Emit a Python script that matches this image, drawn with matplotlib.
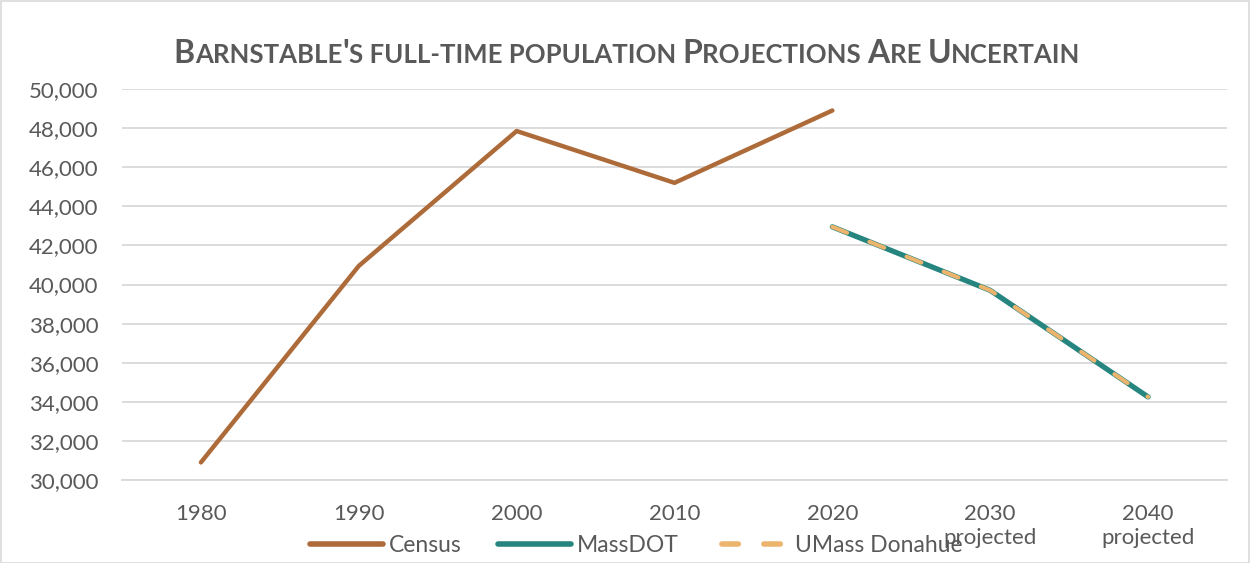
import matplotlib
matplotlib.use('Agg')
import matplotlib.pyplot as plt
import numpy as np
from matplotlib.lines import Line2D
from matplotlib.patches import Rectangle
from matplotlib.ticker import FuncFormatter, MultipleLocator

plt.rcParams['font.family'] = ['Lato', 'DejaVu Sans']

# ---- data ----
categories = ['1980', '1990', '2000', '2010', '2020', '2030\nprojected', '2040\nprojected']
census = [30900, 40950, 47850, 45200, 48900, np.nan, np.nan]
massdot = [np.nan, np.nan, np.nan, np.nan, 42950, 39700, 34250]
umass_donahue = [np.nan, np.nan, np.nan, np.nan, 42950, 39700, 34250]
title_text = "Barnstable's full-time population Projections Are Uncertain"

C_CENSUS = '#AE6B3A'
C_MASS = '#26857F'
C_UMASS = '#EDB46E'
TXT = '#595959'
GRID = '#D9D9D9'

W, H = 1251, 563
fig = plt.figure(figsize=(W / 100, H / 100), dpi=100)
ax = fig.add_axes([122 / W, 1 - 480 / H, (1227 - 122) / W, (480 - 89) / H])

x = np.arange(len(categories))
ax.plot(x, census, color=C_CENSUS, lw=3.2, solid_capstyle='round', zorder=3)
ax.plot(x, massdot, color=C_MASS, lw=3.8, solid_capstyle='round', zorder=3)
ax.plot(x, umass_donahue, color=C_UMASS, lw=3.0, linestyle=(0, (3.8, 5.8)),
        dash_capstyle='round', zorder=4)

ax.set_xlim(-0.5, len(categories) - 0.5)
ax.set_ylim(30000, 50000)
ax.yaxis.set_major_locator(MultipleLocator(2000))
ax.yaxis.set_major_formatter(FuncFormatter(lambda v, p: f'{int(v):,}'))
ax.set_xticks(x)
ax.set_xticklabels(categories, linespacing=1.3)
ax.grid(axis='y', color=GRID, lw=1.3)
ax.set_axisbelow(True)
for s in ['top', 'right', 'left']:
    ax.spines[s].set_visible(False)
ax.spines['bottom'].set_color(GRID)
ax.spines['bottom'].set_linewidth(1.3)
ax.tick_params(axis='both', length=0, labelsize=16, colors=TXT)
ax.tick_params(axis='y', pad=17)
ax.tick_params(axis='x', pad=17)

# legend
handles = [
    Line2D([], [], color=C_CENSUS, lw=4, solid_capstyle='round'),
    Line2D([], [], color=C_MASS, lw=4, solid_capstyle='round'),
    Line2D([], [], color=C_UMASS, lw=4, linestyle=(6.5, (2.96, 4.6)), dash_capstyle='round'),
]
fig.legend(handles, ['Census', 'MassDOT', 'UMass Donahue'], loc='center',
           bbox_to_anchor=(636 / W, 1 - 546 / H), ncol=3, frameon=False,
           fontsize=16.5, labelcolor=TXT, handlelength=3.2, handletextpad=0.25,
           columnspacing=1.6, borderpad=0, borderaxespad=0)

# border
fig.patches.append(Rectangle((1 / W, 0), 1 - 3 / W, 1 - 1 / H, transform=fig.transFigure,
                             fill=False, edgecolor='#D9D9D9', lw=1.2))

# small-caps title
renderer = fig.canvas.get_renderer()
BIG, SMALL = 23, 18.5
runs = []
for ch in title_text:
    big = ch.isupper() or ch == "'"
    size = BIG if big else SMALL
    c = ch.upper()
    if runs and runs[-1][1] == size:
        runs[-1][0] += c
    else:
        runs.append([c, size])


def width(s, size):
    t = fig.text(0, 0, s + '.', fontsize=size, fontweight='bold')
    w1 = t.get_window_extent(renderer).width
    t.remove()
    t = fig.text(0, 0, '.', fontsize=size, fontweight='bold')
    w2 = t.get_window_extent(renderer).width
    t.remove()
    return w1 - w2


widths = [width(s, sz) for s, sz in runs]
total = sum(widths)
xpos = (627 - total / 2)
ybase = 1 - 63 / H
for (s, sz), w in zip(runs, widths):
    fig.text(xpos / W, ybase, s, fontsize=sz, fontweight='bold', color=TXT,
             va='baseline', ha='left')
    xpos += w

fig.savefig('out.png', dpi=100)
